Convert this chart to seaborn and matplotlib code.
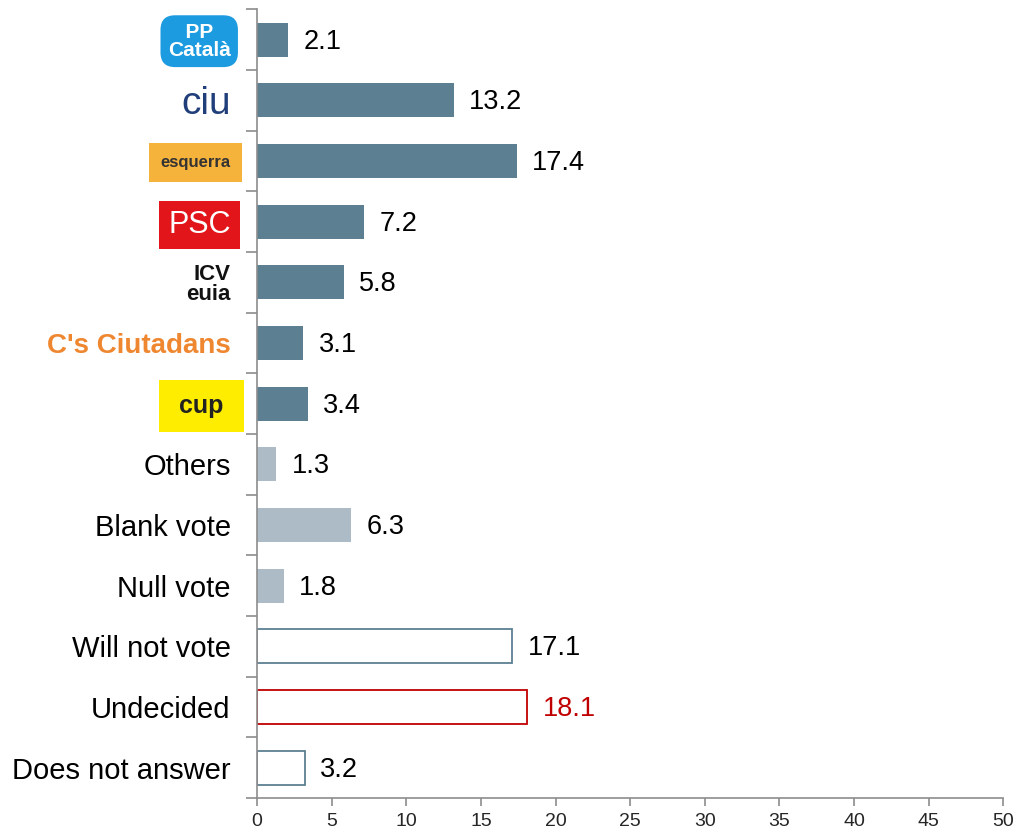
import matplotlib
matplotlib.use("Agg")
import matplotlib.pyplot as plt
import seaborn as sns
import numpy as np

categories = ["PP Català", "ciu", "esquerra", "PSC", "ICV euia", "C's Ciutadans", "cup",
              "Others", "Blank vote", "Null vote", "Will not vote", "Undecided", "Does not answer"]
values = [2.1, 13.2, 17.4, 7.2, 5.8, 3.1, 3.4, 1.3, 6.3, 1.8, 17.1, 18.1, 3.2]
kinds = ["party"] * 7 + ["other"] * 3 + ["outline"] * 3
xticks = [0, 5, 10, 15, 20, 25, 30, 35, 40, 45, 50]

DARK = "#5D7F92"
LIGHT = "#ADBBC6"
RED = "#C00000"
fill_colors = {"party": DARK, "other": LIGHT, "outline": "white"}

sns.set_theme(style="white")
plt.rcParams['font.family'] = ['Liberation Sans', 'DejaVu Sans']

fig = plt.figure(figsize=(10.18, 8.39), dpi=100)
ax = fig.add_axes([0.2525, 0.049, 0.733, 0.94])

palette = [fill_colors[k] for k in kinds]
sns.barplot(x=values, y=categories, hue=categories, palette=palette, legend=False,
            orient="h", width=0.56, ax=ax, saturation=1, linewidth=0)

for i, (p, k) in enumerate(zip(ax.patches, kinds)):
    if k == "outline":
        p.set_facecolor("white")
        p.set_edgecolor(RED if categories[i] == "Undecided" else DARK)
        p.set_linewidth(1.3)

for i, v in enumerate(values):
    col = RED if categories[i] == "Undecided" else "black"
    ax.annotate(f"{v:.1f}", xy=(v, i), xytext=(11, -1.5), textcoords="offset points",
                ha="left", va="center", fontsize=19.5, color=col)

ax.set_xlim(0, 50)
ax.set_ylim(12.5, -0.5)
ax.set_xticks(xticks)
ax.set_xticklabels([str(t) for t in xticks], fontsize=14)
ax.set_yticks(range(len(categories)))
ax.set_yticks(np.arange(-0.5, len(categories), 1.0), minor=True)
ax.tick_params(axis='y', which='major', length=0, pad=19, labelsize=21)
ax.tick_params(axis='y', which='minor', length=8, width=1.2, color="#8C8C8C", direction='out', left=True)
ax.tick_params(axis='x', which='major', length=6, width=1.2, color="#8C8C8C", direction='out', bottom=True, pad=5)

for s in ["top", "right"]:
    ax.spines[s].set_visible(False)
for s in ["left", "bottom"]:
    ax.spines[s].set_color("#8C8C8C")
    ax.spines[s].set_linewidth(1.2)
ax.set_xlabel("")
ax.set_ylabel("")

# style the party labels like their logos (kept as real text)
styles = {
    "PP Català": dict(text="  PP  \nCatalà", color="white", weight="bold", size=15,
                      bbox=dict(boxstyle="round,pad=0.35,rounding_size=0.7", fc="#1D9BE0", ec="none")),
    "ciu": dict(text="ciu", color="#1F3E7A", weight="normal", size=28, bbox=None),
    "esquerra": dict(text="esquerra", color="#333333", weight="bold", size=12,
                     bbox=dict(boxstyle="square,pad=0.7", fc="#F6B33C", ec="none")),
    "PSC": dict(text="PSC", color="white", weight="normal", size=22,
                bbox=dict(boxstyle="square,pad=0.3", fc="#E2161A", ec="none")),
    "ICV euia": dict(text="ICV\neuia", color="#111111", weight="bold", size=16, bbox=None),
    "C's Ciutadans": dict(text="C's Ciutadans", color="#EE8730", weight="bold", size=20, bbox=None),
    "cup": dict(text=" cup ", color="#222222", weight="bold", size=18,
                bbox=dict(boxstyle="square,pad=0.55", fc="#FFED00", ec="none")),
}
new = [styles[c]["text"] if c in styles else c for c in categories]
ax.set_yticklabels(new)
for lab, cat in zip(ax.get_yticklabels(), categories):
    if cat in styles:
        st = styles[cat]
        lab.set_color(st["color"])
        lab.set_fontweight(st["weight"])
        lab.set_fontsize(st["size"])
        lab.set_linespacing(0.95)
        if st["bbox"] is not None:
            lab.set_bbox(st["bbox"])
        if cat == "PP Català":
            lab.set_multialignment("center")
    else:
        lab.set_color("black")

fig.savefig("out.png", dpi=100)
